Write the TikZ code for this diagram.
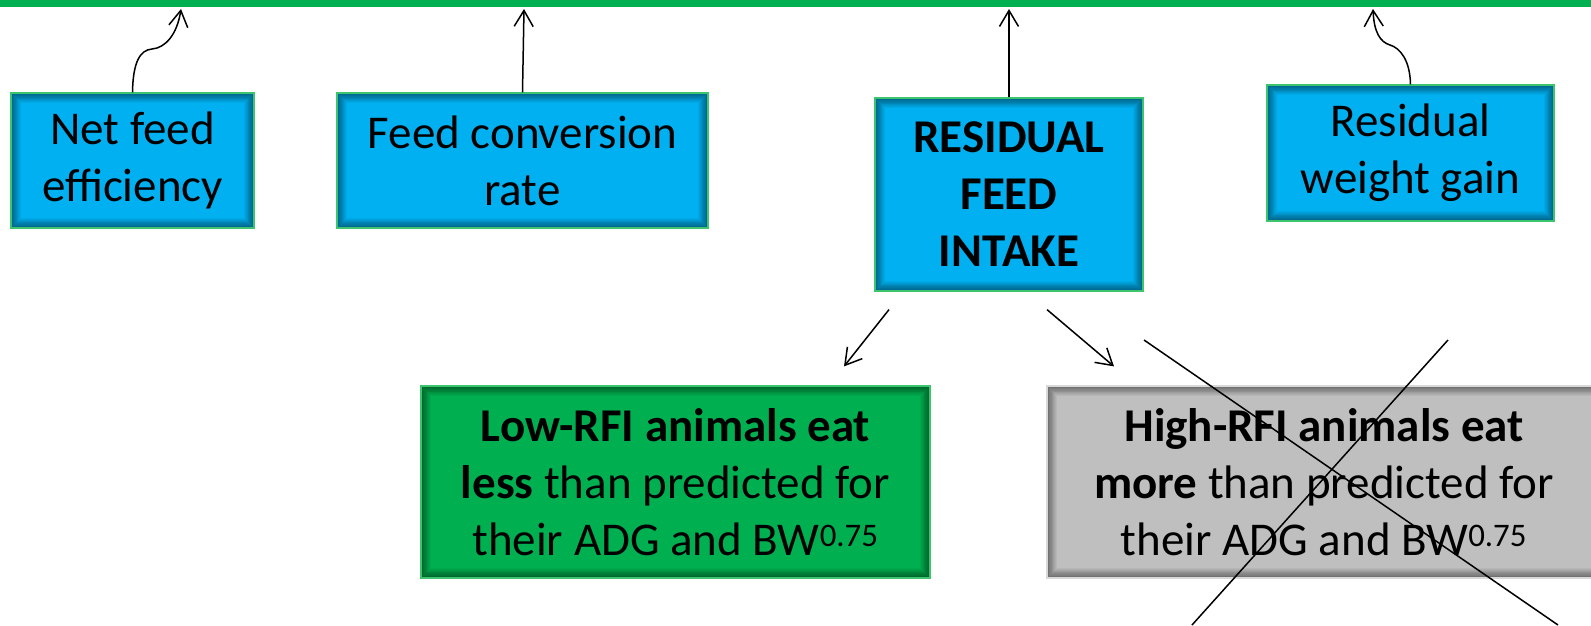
\documentclass[tikz,border=0pt]{standalone}
\usepackage{fontspec}
\setmainfont{Carlito}
\usetikzlibrary{arrows.meta,calc}
\definecolor{bargreen}{HTML}{00B050}
\definecolor{skyblue}{HTML}{00B0F0}
\definecolor{edgegreen}{HTML}{3CC46E}
\definecolor{highgray}{HTML}{BFBFBF}
\definecolor{edgegray}{HTML}{D9D9D9}

\tikzset{
  box/.style={draw=edgegreen,line width=1.2pt,align=center,inner sep=0pt,
    font=\fontsize{47}{57}\selectfont,
    path picture={\foreach \k in {1,...,12}
      \draw[black,opacity=0.045,line width=\k*1.6pt]
        (path picture bounding box.south west) rectangle (path picture bounding box.north east);}},
  bluebox/.style={box,fill=skyblue},
  lowbox/.style={box,fill=bargreen},
  highbox/.style={box,fill=highgray,draw=edgegray},
  conn/.style={line width=1.5pt,-{Straight Barb[length=16pt,width=19pt,line width=1.5pt]}},
}

\begin{document}
\begin{tikzpicture}[x=1pt,y=-1pt]
 \fill[white] (0,0) rectangle (1591,625);
 \clip (0,0) rectangle (1591,625);
 \fill[bargreen] (0,0) rectangle (1591,7);
 % boxes
 \node[bluebox,minimum width=243pt,minimum height=135pt] (nfe) at (132.5,160.5) {Net feed\\efficiency};
 \node[bluebox,minimum width=371pt,minimum height=135pt] (fcr) at (522.5,160.5) {Feed conversion\\rate};
 \node[bluebox,minimum width=268pt,minimum height=193pt,font=\fontsize{47}{57}\selectfont\bfseries] (rfi) at (1009,194.5) {RESIDUAL\\FEED\\INTAKE};
 \node[bluebox,minimum width=287pt,minimum height=136pt] (rwg) at (1410.5,153) {Residual\\weight gain};
 \node[lowbox,minimum width=509pt,minimum height=192pt] (low) at (675.5,482)
   {\textbf{Low-RFI animals eat}\\\textbf{less} than predicted for\\their ADG and BW\textsuperscript{0.75}};
 \node[highbox,minimum width=554pt,minimum height=192pt] (high) at (1324,482)
   {\textbf{High-RFI animals eat}\\\textbf{more} than predicted for\\their ADG and BW\textsuperscript{0.75}};
 % arrow ends at the bar
 \coordinate (nfeend) at (181,9);
 \coordinate (fcrend) at (524,9);
 \coordinate (rfiend) at (1009,9);
 \coordinate (rwgend) at (1373,9);
 \draw[conn] (nfe.north) .. controls (133,62) and (140,50) .. (152,49)
   .. controls (165,48) and (177,35) .. (nfeend);
 \draw[conn] (fcr.north) -- (fcrend);
 \draw[conn] (rfi.north) -- (rfiend);
 \draw[conn] (rwg.north) .. controls (1410,60) and (1400,48) .. (1390,45)
   .. controls (1380,42) and (1374,32) .. (rwgend);
 % split below
 \draw[conn] ($(rfi.south)+(-120,18)$) -- ($(low.north)+(168.5,-19)$);
 \draw[conn] ($(rfi.south)+(38,18)$) -- ($(high.north)+(-210,-19)$);
 % cross
 \draw[line width=1.5pt] (1144,340) -- (1558,625);
 \draw[line width=1.5pt] (1448,340) -- (1192,625);
\end{tikzpicture}
\end{document}
